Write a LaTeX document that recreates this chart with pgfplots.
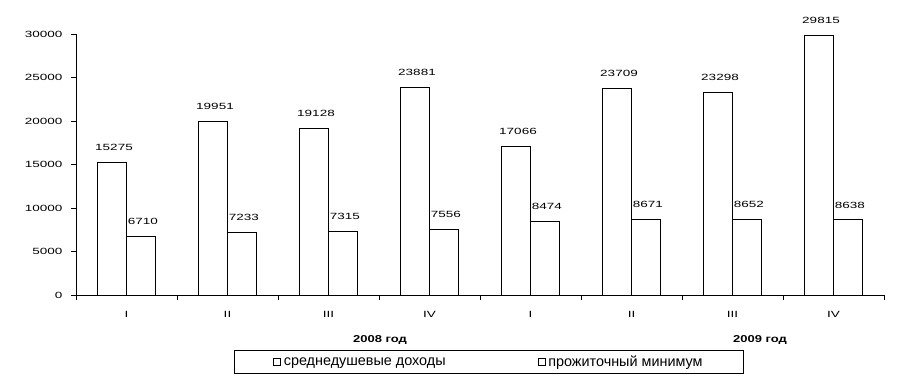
\documentclass[border=0pt]{standalone}
\usepackage{fontspec}
\setmainfont{Liberation Sans}
\newfontfamily\numfont[FakeStretch=1.5]{Liberation Sans}
\newfontfamily\yearfont[FakeStretch=1.3]{Liberation Sans}
\usepackage{pgfplots}
\pgfplotsset{compat=1.18}

\begin{document}
\begin{tikzpicture}[x=1pt,y=1pt]
\path[use as bounding box] (-76,-95) rectangle (832,295);
\begin{axis}[
  at={(0,0)}, anchor=south west,
  scale only axis, width=808pt, height=261pt,
  xmin=0.5, xmax=8.5, ymin=0, ymax=30000,
  axis lines*=left,
  axis line style={line width=0.8pt, -},
  ybar=0pt, bar width=0.287,
  xtick={1,...,8},
  xticklabels={I,II,III,IV,I,II,III,IV},
  major x tick style={draw=none},
  minor xtick={0.5,1.5,2.5,3.5,4.5,5.5,6.5,7.5,8.5},
  minor x tick style={line width=0.8pt, black},
  minor tick length=5pt,
  major tick length=5pt,
  tick align=outside,
  ytick={0,5000,...,30000},
  scaled y ticks=false,
  ytick style={line width=0.8pt, black},
  /pgf/number format/1000 sep={},
  /pgf/number format/assume math mode=true,
  yticklabel style={font=\numfont\fontsize{9}{10}\selectfont, xshift=-5pt},
  xticklabel style={font=\numfont\fontsize{9}{10}\selectfont, yshift=-8pt},
  nodes near coords,
  nodes near coords style={font=\numfont\fontsize{9}{10}\selectfont, black, yshift=8pt, xshift=2pt},
  legend columns=2,
  legend style={at={(0.511,-0.257)}, anchor=center, draw=black, line width=0.8pt,
    font=\fontsize{14.4}{16}\selectfont, inner xsep=39pt, inner ysep=3.5pt,
    /tikz/every even column/.append style={column sep=90pt},
    /tikz/every odd column/.append style={column sep=1pt}},
  legend image code/.code={\draw[black,fill=white,line width=0.6pt] (0pt,-3.5pt) rectangle (7pt,3.5pt);},
]
\addplot[draw=black, fill=white, line width=0.8pt] coordinates {
  (1,15275) (2,19951) (3,19128) (4,23881) (5,17066) (6,23709) (7,23298) (8,29815)};
\addplot[draw=black, fill=white, line width=0.8pt] coordinates {
  (1,6710) (2,7233) (3,7315) (4,7556) (5,8474) (6,8671) (7,8652) (8,8638)};
\legend{среднедушевые доходы, прожиточный минимум}
\end{axis}
\node[font=\yearfont\bfseries\fontsize{10}{12}\selectfont] at (304,-45) {2008 год};
\node[font=\yearfont\bfseries\fontsize{10}{12}\selectfont] at (684,-45) {2009 год};
\end{tikzpicture}
\end{document}
